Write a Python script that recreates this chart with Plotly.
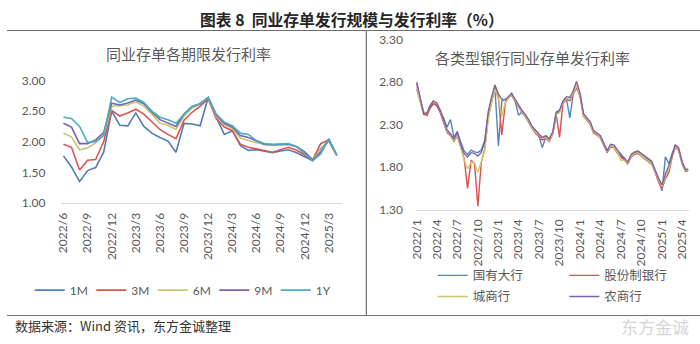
import plotly.graph_objects as go

# ---------------- Left chart data (monthly) ----------------
months = ["2022/6","2022/7","2022/8","2022/9","2022/10","2022/11","2022/12",
          "2023/1","2023/2","2023/3","2023/4","2023/5","2023/6","2023/7","2023/8",
          "2023/9","2023/10","2023/11","2023/12","2024/1","2024/2","2024/3","2024/4",
          "2024/5","2024/6","2024/7","2024/8","2024/9","2024/10","2024/11","2024/12",
          "2025/1","2025/2","2025/3","2025/4"]
left_ticks = ["2022/6","2022/9","2022/12","2023/3","2023/6","2023/9","2023/12",
              "2024/3","2024/6","2024/9","2024/12","2025/3"]

rate_1m = [1.77,1.59,1.35,1.53,1.58,1.83,2.50,2.27,2.26,2.47,2.25,2.14,2.07,2.01,1.83,2.30,2.29,2.26,
           2.72,2.40,2.12,2.18,1.94,1.86,1.87,1.84,1.82,1.85,1.87,1.82,1.75,1.69,1.88,2.02,1.78]
rate_3m = [1.96,1.91,1.54,1.70,1.71,2.00,2.51,2.42,2.47,2.53,2.45,2.32,2.20,2.12,2.05,2.35,2.48,2.58,
           2.70,2.38,2.24,2.18,1.96,1.91,1.88,1.86,1.83,1.87,1.91,1.86,1.79,1.71,1.97,2.03,1.78]
rate_6m = [2.14,2.08,1.87,1.90,1.98,2.12,2.58,2.59,2.60,2.65,2.58,2.45,2.30,2.27,2.20,2.42,2.55,2.62,
           2.72,2.42,2.28,2.22,2.06,2.02,1.98,1.95,1.94,1.95,1.96,1.92,1.84,1.71,1.87,2.02,1.78]
rate_9m = [2.30,2.24,1.97,1.97,2.03,2.15,2.63,2.60,2.63,2.68,2.62,2.48,2.36,2.30,2.25,2.45,2.57,2.62,
           2.72,2.44,2.30,2.24,2.10,2.07,2.01,1.96,1.95,1.96,1.96,1.92,1.83,1.70,1.83,2.03,1.78]
rate_1y = [2.40,2.38,2.25,1.99,2.00,2.10,2.73,2.64,2.70,2.71,2.64,2.50,2.40,2.36,2.30,2.45,2.58,2.62,
           2.72,2.45,2.32,2.26,2.14,2.12,2.02,1.97,1.96,1.96,1.97,1.92,1.81,1.69,1.80,2.05,1.78]

# ---------------- Right chart data (semi-monthly) ----------------
dates = []
for yr in range(2022, 2026):
    for mo in range(1, 13):
        if (yr, mo) <= (2025, 4):
            dates.append(f"{yr}-{mo:02d}-01")
            dates.append(f"{yr}-{mo:02d}-16")
dates.append("2025-04-28")

right_tickvals = ["2022-01-01","2022-04-01","2022-07-01","2022-10-01","2023-01-01","2023-04-01",
                  "2023-07-01","2023-10-01","2024-01-01","2024-04-01","2024-07-01","2024-10-01",
                  "2025-01-01","2025-04-01"]
right_ticktext = ["2022/1","2022/4","2022/7","2022/10","2023/1","2023/4","2023/7","2023/10",
                  "2024/1","2024/4","2024/7","2024/10","2025/1","2025/4"]

state_banks = [2.78,2.60,2.45,2.42,2.50,2.55,2.53,2.45,2.38,2.27,2.36,2.15,2.22,2.10,1.99,1.95,
               2.00,1.98,1.97,2.00,2.12,2.42,2.60,2.74,2.05,2.58,2.60,2.62,2.66,2.58,2.41,2.45,
               2.40,2.33,2.27,2.22,2.17,2.03,2.16,2.12,2.20,2.43,2.46,2.56,2.60,2.38,2.66,2.76,
               2.64,2.42,2.36,2.31,2.22,2.19,2.15,2.06,2.00,2.05,2.04,1.98,1.94,1.90,1.85,1.94,
               1.97,1.98,1.94,1.92,1.88,1.85,1.75,1.64,1.52,1.92,1.84,1.97,2.05,2.01,1.85,1.76,1.77]
joint_stock = [2.72,2.57,2.42,2.41,2.49,2.55,2.52,2.44,2.33,2.21,2.17,2.10,2.17,2.03,1.90,1.55,
               1.88,1.84,1.34,1.85,2.02,2.38,2.58,2.74,2.62,2.18,2.56,2.62,2.65,2.58,2.50,2.44,
               2.40,2.33,2.25,2.20,2.16,2.12,2.14,2.10,2.19,2.42,2.15,2.55,2.60,2.58,2.66,2.74,
               2.63,2.40,2.35,2.30,2.20,2.18,2.14,2.05,1.97,2.04,2.03,1.96,1.92,1.87,1.84,1.92,
               1.95,1.96,1.93,1.90,1.86,1.83,1.74,1.63,1.55,1.66,1.74,1.93,2.03,2.00,1.84,1.75,1.76]
city_banks = [2.75,2.58,2.44,2.44,2.53,2.58,2.56,2.47,2.35,2.22,2.18,2.11,2.18,2.04,1.88,1.78,
              1.86,1.85,1.74,1.86,2.00,2.35,2.56,2.72,2.60,2.40,2.57,2.62,2.66,2.59,2.51,2.45,
              2.40,2.34,2.26,2.21,2.18,2.14,2.15,2.11,2.20,2.42,2.44,2.56,2.61,2.60,2.67,2.76,
              2.64,2.41,2.36,2.31,2.21,2.19,2.15,2.06,1.98,2.05,2.04,1.97,1.88,1.88,1.85,1.93,
              1.96,1.97,1.94,1.91,1.87,1.84,1.75,1.65,1.57,1.69,1.78,1.94,2.04,2.01,1.85,1.76,1.77]
rural_banks = [2.80,2.62,2.43,2.44,2.52,2.58,2.55,2.47,2.36,2.24,2.19,2.13,2.21,2.07,1.96,1.92,
               1.97,1.96,1.93,1.97,2.10,2.45,2.62,2.77,2.66,2.60,2.59,2.63,2.67,2.60,2.53,2.47,
               2.42,2.36,2.28,2.23,2.19,2.15,2.17,2.13,2.22,2.45,2.47,2.58,2.63,2.62,2.70,2.81,
               2.67,2.43,2.38,2.33,2.23,2.20,2.17,2.08,1.99,2.07,2.06,2.00,1.95,1.90,1.86,1.95,
               1.98,1.99,1.96,1.94,1.90,1.87,1.77,1.67,1.59,1.72,1.82,1.96,2.06,2.03,1.86,1.77,1.78]

W, H = 700, 344
def px(x):
    return x / W
def py(y):
    return (H - y) / H

CJK = "Noto Sans CJK SC"
NUM = "Lato"
GRAY = "#595959"

fig = go.Figure()

left_series = [("1M", rate_1m, "#4F7CB8"), ("3M", rate_3m, "#DB5450"),
               ("6M", rate_6m, "#C3C873"), ("9M", rate_9m, "#7D62A6"),
               ("1Y", rate_1y, "#4BACC6")]
for name, vals, col in left_series:
    fig.add_trace(go.Scatter(x=months, y=vals, name=name, mode="lines",
                             line=dict(color=col, width=1.6),
                             xaxis="x", yaxis="y", legend="legend"))

right_series = [("国有大行", state_banks, "#5384C4", "legend2"),
                ("股份制银行", joint_stock, "#DB4F4F", "legend3"),
                ("城商行", city_banks, "#CACC6C", "legend4"),
                ("农商行", rural_banks, "#7F62A6", "legend5")]
for name, vals, col, lg in right_series:
    fig.add_trace(go.Scatter(x=dates, y=vals, name=name, mode="lines",
                             line=dict(color=col, width=1.4),
                             xaxis="x2", yaxis="y2", legend=lg))

tickfont = dict(family=NUM, size=12, color=GRAY)

def rlegend(x0, yc):
    return dict(orientation="h", x=px(x0), xanchor="left", y=py(yc), yanchor="middle",
                font=dict(family=CJK, size=12.5, color=GRAY),
                bgcolor="rgba(0,0,0,0)", itemwidth=30)

fig.update_layout(
    width=W, height=H, margin=dict(l=0, r=0, t=0, b=0),
    paper_bgcolor="white", plot_bgcolor="white", showlegend=True,
    xaxis=dict(domain=[px(55), px(338)], anchor="y", type="category",
               range=[-0.25, 34.6], tickmode="array", tickvals=left_ticks, ticktext=left_ticks,
               tickangle=-90, tickfont=tickfont, showgrid=False, zeroline=False,
               showline=True, linecolor="#d9d9d9", linewidth=1, ticks="", ticklabelstandoff=4),
    yaxis=dict(domain=[py(204), py(75.7)], anchor="x", range=[1, 3],
               tickvals=[1.0, 1.5, 2.0, 2.5, 3.0], tickformat=".2f", tickfont=tickfont,
               showgrid=False, zeroline=False, showline=False, ticks="", ticklabelstandoff=15),
    xaxis2=dict(domain=[px(413), px(689)], anchor="y2", type="date",
                range=["2021-12-28", "2025-05-02"], tickmode="array",
                tickvals=right_tickvals, ticktext=right_ticktext, tickangle=-90,
                tickfont=tickfont, showgrid=False, zeroline=False, showline=True,
                linecolor="#d9d9d9", linewidth=1, ticks="", ticklabelstandoff=4),
    yaxis2=dict(domain=[py(210.7), py(33.3)], anchor="x2", range=[1.3, 3.3],
                tickvals=[1.3, 1.8, 2.3, 2.8, 3.3], tickformat=".2f", tickfont=tickfont,
                showgrid=False, zeroline=False, showline=False, ticks="", ticklabelstandoff=12),
    legend=dict(orientation="h", x=px(23), xanchor="left", y=py(295), yanchor="middle",
                entrywidth=16.5, entrywidthmode="pixels", font=dict(family=NUM, size=12, color=GRAY),
                bgcolor="rgba(0,0,0,0)", itemwidth=30, tracegroupgap=0),
    legend2=rlegend(430, 280),
    legend3=rlegend(563, 280),
    legend4=rlegend(430, 302),
    legend5=rlegend(563, 302),
)

annos = [
    dict(text="<b>图表 8  同业存单发行规模与发行利率（%）</b>", x=px(348), y=py(12),
         font=dict(family=CJK, size=15.8, color="#262626")),
    dict(text="同业存单各期限发行利率", x=px(183), y=py(48),
         font=dict(family=CJK, size=15, color=GRAY)),
    dict(text="各类型银行同业存单发行利率", x=px(531), y=py(52),
         font=dict(family=CJK, size=15, color=GRAY)),
    dict(text="数据来源：Wind 资讯，东方金诚整理", x=px(6), y=py(332), xanchor="left",
         font=dict(family=CJK, size=13, color="#333333")),
    dict(text="东方金诚", x=px(655), y=py(333),
         font=dict(family=CJK, size=17, color="#d6d6d6")),
]
for a in annos:
    a.setdefault("xanchor", "center")
    fig.add_annotation(xref="paper", yref="paper", showarrow=False, yanchor="middle", **a)

line_col = "#6e6e6e"
fig.add_shape(type="line", xref="paper", yref="paper", x0=0, x1=1, y0=py(23.5), y1=py(23.5),
              line=dict(color=line_col, width=1.2))
fig.add_shape(type="line", xref="paper", yref="paper", x0=0, x1=1, y0=py(321.5), y1=py(321.5),
              line=dict(color=line_col, width=1.2))
fig.add_shape(type="line", xref="paper", yref="paper", x0=px(363), x1=px(363), y0=py(23.5), y1=py(321.5),
              line=dict(color=line_col, width=1.2))

fig.write_html("out.html")
